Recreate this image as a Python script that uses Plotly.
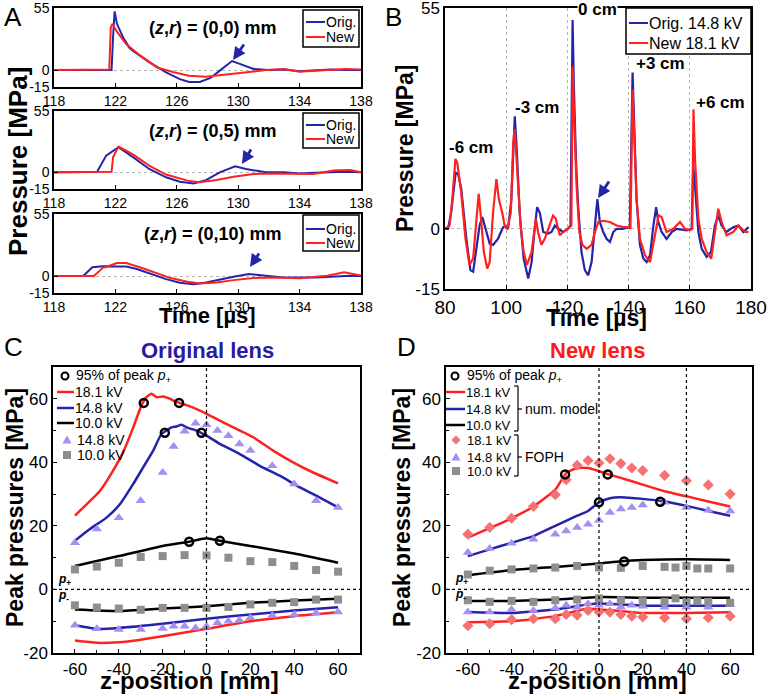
import plotly.graph_objects as go

W, H = 768, 696
FONT = "Liberation Sans, Arial, sans-serif"
BLUE = "#2424a8"
RED = "#ff2020"
LAV = "#a58ff0"
GRAY = "#8e8e8e"
PINK = "#f47272"

# ---------------- Panel A data (time in us, pressure in MPa) ----------------
a1_t_orig = [118, 119, 120, 121, 121.75, 121.85, 121.95, 122.1, 122.5, 122.9, 123.15, 124.2, 125.3, 126.2, 126.8,
             127.5, 128.2, 128.8, 129.6, 130.1, 131, 132, 133, 134, 135, 136, 137, 138]
a1_p_orig = [0, 0, 0, 0, 0, 30, 52, 41, 29, 20, 17, 7, -2, -8, -10.5, -10.5, -7, -0.5, 8, 5.5, 1, 0, 0.5, -1, 0, 0.5, 0, 0]
a1_t_new = [118, 119, 120, 121, 121.6, 121.7, 121.8, 122.1, 122.7, 123.6, 124.7, 125.8, 126.8, 127.9, 129.2, 130.5,
            131.8, 133, 134, 135, 136, 137, 138]
a1_p_new = [0, 0, 0, 0, 0.5, 38, 41, 34, 23, 13, 2.4, -2, -5, -6, -4, -2, 0, 1, -1.5, -0.5, 0, 1, 0.5]

a2_t_orig = [118, 119, 120, 120.8, 121.4, 121.8, 122.2, 123.15, 124.2, 125.3, 126.2, 127.1, 127.9, 128.8, 129.8, 130.5,
             131.8, 133, 134, 135, 136, 137, 138]
a2_p_orig = [0, 0, 0, 0.3, 15, 19, 22.6, 13.6, 3, -4.5, -8.5, -10, -7, 0, 5.4, 3, 0, 0, -1, -0.5, 0, 0.5, 0]
a2_t_new = [118, 119, 120, 121, 121.75, 121.85, 122.2, 123.15, 124.2, 125.3, 126.7, 127.5, 128.6, 129.7, 131, 132.3,
            133.6, 134.9, 136.2, 137.3, 138]
a2_p_new = [0, 0, 0, 0, 0.5, 13.6, 23, 16, 6, -2, -7.5, -9, -7, -4, -1.5, -1, -1.5, -1.5, 1.5, 2, 0]

a3_t_orig = [118, 119, 119.9, 120.5, 121.2, 122.1, 122.7, 123.4, 124.2, 125.3, 126.2, 127.1, 127.9, 128.8, 129.7, 130.7,
             131.6, 132.9, 135.1, 137.3, 138]
a3_p_orig = [0, 0, 0, 7.8, 8.7, 8.4, 8.4, 6.3, 2.4, -2.7, -6, -7.2, -5.7, -3, -0.6, 1.8, 0.3, -1.2, -1.2, 0.3, 0]
a3_t_new = [118, 119, 120, 120.6, 121.2, 121.4, 122.1, 122.7, 123.6, 124.5, 125.6, 126.7, 127.5, 128.6, 129.7, 131,
            132.3, 134, 135.8, 136.9, 137.6, 138]
a3_p_new = [0, 0, 0, 0, 7.5, 8, 11.6, 11.6, 7.8, 3.3, -1.8, -5, -6.6, -5.7, -3.6, -1.8, -1.2, -2, 0.3, 3.3, 1.8, 0.5]

a_xticks = [118, 122, 126, 130, 134, 138]
a_yticks = [-15, 0, 55]
a_labels = ["(<i>z</i>,<i>r</i>) = (0,0) mm", "(<i>z</i>,<i>r</i>) = (0,5) mm", "(<i>z</i>,<i>r</i>) = (0,10) mm"]

# ---------------- Panel B data ----------------
b_t_orig = [80, 81, 82, 83.5, 84.3, 85.3, 87, 88.3, 89.2, 90.3, 91.3, 92.2, 93.3, 94.6, 95.7, 97.3, 99, 99.9,
            100.6, 101.7, 102.8, 103.3, 104.4, 105.7, 107.2, 108.3, 109.2, 110.1, 111, 112.1, 113.7, 114.8, 115.9,
            117, 118.6, 120.2, 121, 121.7, 122.1, 122.8, 123.5, 124.6, 125.7, 126.8, 127.9, 129, 129.8, 130.6,
            131.7, 132.8, 133.9, 135, 136.1, 138, 140.4, 141.3, 141.7, 142.6, 143.7, 144.8, 145.9, 147, 148.1,
            149, 149.7, 150.8, 152.4, 154.1, 155.7, 159, 160.6, 161.1, 161.7, 162.8, 163.9, 165.5, 166.9, 168.2,
            169.3, 170.4, 172, 174.2, 175.9, 177.5, 179.2]
b_p_orig = [0, 0, 4, 14, 13.6, 10, -2.5, -10.3, -10.7, -5, 0.8, 2.9, 0, -3.7, -4, -2.5, 0.4, 0.6,
            0, 7.4, 28, 22, 4, -7.4, -12.4, -8.3, -0.8, 5.4, 4, -0.8, -1.2, -0.8, 0.8,
            0, -0.8, 0, 0.8, 52, 36, 17, 5.8, -5.8, -10.3, -11.6, -8.3, 0.8, 7.4, 1.7,
            -0.8, -2.5, -3.3, -0.8, 0, 0, 0.4, 38.9, 28, 7.4, -4, -7.4, -8.3, -6.6, 0.8,
            5.4, 1.7, -0.8, -2.5, -0.8, 0, -0.4, 0, 15.7, 10.7, -0.8, -5, -7, -5.8, 0.8,
            3.3, 0.8, -0.8, 0.4, 0.8, -0.8, 0.4]
b_t_new = [80, 81.5, 82.4, 83.4, 84, 85.3, 86.7, 88, 89.2, 90.3, 91, 91.6, 92.7, 93.8, 94.6, 95.7, 96.8, 97.6,
           98.7, 99.6, 100.4, 101.5, 102.3, 102.8, 103.6, 104.7, 105.7, 106.8, 108.3, 109, 109.7, 110.4, 111.5,
           112.6, 114, 115.3, 116.2, 117.5, 118.6, 120.2, 121.3, 121.7, 122.2, 123, 123.9, 124.9, 126.3, 127.9,
           129, 130.1, 131.7, 133.9, 136.1, 138.3, 139.9, 140.6, 141.3, 141.8, 142.6, 143.7, 145.4, 147, 148.4,
           149.8, 150.8, 152.4, 154.6, 156.8, 158.4, 160, 160.8, 161.2, 161.7, 162.8, 163.9, 165.5, 167, 168.2,
           169.3, 170.4, 172, 174.2, 175.9, 178.1, 179.2]
b_p_new = [0, 0.8, 7.4, 17.4, 16.5, 9, -2.5, -9, -7.4, 4, 8.7, 4, -5.8, -9.9, -8.3, 4, 12.4, 7.4,
           4, 0.4, 0, 4, 21.5, 24.8, 15.7, 0.8, -5.8, -9, -5.8, -0.8, 2.5, -0.8, -4,
           -2.5, 0.8, 3.3, 2.5, -1.6, -0.8, 0, 0.8, 40.5, 28, 10.7, -0.8, -4, -5, -4,
           -0.8, 1.7, 2, 1.7, 0.8, 0.4, 0.4, 0, 34.7, 24, 7.4, -2.5, -6.6, -8.3, -2.5,
           3.3, 2.9, -0.8, 0, 1.7, 0, -0.4, 0, 29.8, 17.4, 2.5, -2.5, -5.8, -7.4, -0.8,
           5, 1.7, -1.6, -0.8, 0.8, -0.8, -0.8]
b_xticks = [80, 100, 120, 140, 160, 180]
b_yticks = [-15, 0, 55]
b_labels = ["-6 cm", "-3 cm", "0 cm", "+3 cm", "+6 cm"]

# ---------------- Panel C data (Original lens) ----------------
c_red_z = [-60, -54.7, -48.6, -42.6, -38, -33.4, -29.6, -27.4, -25.1, -22.8, -19.8, -16.7, -13.7, -9.1, -3, 3,
           12.2, 21.3, 30.4, 39.5, 48.6, 60]
c_red_p = [23.2, 26.8, 31, 37.4, 43.2, 51, 58, 60.5, 61.6, 60.5, 60.7, 60, 59, 58, 56.3, 54.2,
           51, 47.9, 43.7, 40, 36.8, 33.4]
c_blue_z = [-60, -53.2, -45.6, -39.5, -33.4, -28.9, -24.3, -20.5, -18.2, -16, -13.7, -11.4, -9.1, -4.6, 0, 6.1,
            15.2, 24.3, 33.4, 42.6, 51.7, 60]
c_blue_p = [15.3, 19, 22.6, 26.8, 33.2, 38.4, 43.7, 49, 50, 51, 51.3, 51.8, 51, 50, 48.4, 45.8,
            42.6, 38.9, 35.8, 32.1, 28.9, 25.8]
c_black_z = [-60, -40, -20, -8, 0, 6, 20, 40, 60]
c_black_p = [7.4, 10.5, 13.7, 15, 16.1, 15.3, 13.7, 11.3, 8.4]
c_circ_z = [-28.6, -12.5, -19, -2.3, -7.9, 6.1]
c_circ_p = [58.7, 58.7, 49.3, 49.3, 15, 15.3]

c_tri_z = [-60, -50, -40, -30, -20, -15, -10, -5, 0, 5, 10, 15, 20, 30, 40, 50, 60]
c_tri_pos = [14.7, 19, 22.6, 27.9, 36.8, 45, 49.8, 52.3, 51.8, 50, 48.4, 45.8, 43.7, 38.9, 33.2, 27.9, 25.8]
c_tri_neg = [-11.3, -12.4, -12.6, -12.6, -12.3, -11.6, -11.6, -12.1, -11.6, -10.5, -10, -9.7, -8.9, -8.2, -7.9,
             -7.4, -7.1]
c_sq_z = [-60, -50, -40, -30, -20, -10, 0, 10, 20, 30, 40, 50, 60]
c_sq_pos = [6.3, 7.2, 8.4, 10.2, 10.5, 10.8, 10.7, 10, 8.9, 8.6, 7.4, 6.1, 5.6]
c_sq_neg = [-5, -5.7, -6, -6.4, -5.8, -5.8, -5.8, -5.5, -4.7, -4.2, -4, -3.2, -3.2]

c_neg_z = [-60, -40, -20, 0, 20, 40, 60]
c_black_neg = [-6.3, -6.8, -6, -5.3, -4.2, -3.5, -2.9]
c_blue_neg_z = [-60, -50, -40, -20, 0, 20, 40, 60]
c_blue_neg = [-11.3, -12.4, -12.1, -10.8, -9.2, -7.9, -6.6, -5.6]
c_red_neg_z = [-60, -50, -40, -30, -20, 0, 20, 40, 60]
c_red_neg = [-16.1, -16.8, -16.6, -15.8, -14.7, -12.4, -10, -8.4, -7.2]

# ---------------- Panel D data (New lens) ----------------
d_model_z = [-60, -50, -40, -30, -20, -15, -10, -5, 0, 5, 10, 20, 30, 40, 50, 60]
d_red_p = [16.3, 19.3, 22.4, 26.1, 31.4, 36.6, 38.2, 38.2, 37.2, 36.1, 35.1, 33, 30.9, 29.3, 27.7, 26.1]
d_blue_z = [-60, -50, -40, -30, -20, -10, -5, 0, 5, 10, 20, 30, 40, 50, 60]
d_blue_p = [10.5, 12.6, 14.7, 16.8, 20, 23.2, 24.7, 27.4, 28.7, 29, 28.5, 27.7, 26.3, 24.7, 23.2]
d_black_z = [-60, -40, -20, 0, 10, 20, 40, 60]
d_black_p = [4.5, 6.1, 7.1, 8.2, 8.9, 9.3, 9.5, 9.3]
d_circ_z = [-15.5, 4, 0, 28, 11.5]
d_circ_p = [36.2, 36.2, 27.4, 27.6, 8.8]

d_foph_z = [-60, -50, -40, -30, -20, -15, -10, -5, 0, 5, 10, 15, 20, 30, 40, 50, 60]
d_dia_pos = [17.4, 19.5, 22.4, 26.1, 29.8, 34.5, 39.1, 40.6, 39.8, 41.1, 39.6, 38.2, 37.4, 35.9, 34.2, 32.9, 30]
d_dia_neg = [-11.4, -10.8, -9.5, -9.2, -9.2, -7.9, -8.1, -6.6, -7.1, -7.2, -7.9, -8.4, -8.7, -8.9, -9.2, -8.9, -8.4]
d_tri_pos = [11.6, 12.9, 14.5, 15.8, 17.4, 18.4, 19.5, 20.5, 21.8, 24.2, 25.3, 25.8, 26.6, 27.4, 25.8, 24.9, 24.7]
d_tri_neg = [-7.1, -7.1, -6.3, -6.6, -5.8, -5, -5.6, -4.5, -5, -4.5, -5.5, -5, -5.3, -5.6, -5.6, -5.6, -4.7]
d_sq_z = [-60, -50, -40, -30, -20, -10, 0, 10, 20, 30, 35, 40, 45, 50, 60]
d_sq_pos = [4.7, 5.9, 6.3, 6.6, 6.9, 7.4, 6.9, 6.8, 7.4, 7.1, 6.9, 7.4, 6.6, 6.6, 6.6]
d_sq_neg = [-3.4, -3.9, -3.6, -3.9, -3.4, -3.2, -2.8, -3.4, -3.7, -3.9, -2.8, -3.9, -3.7, -3.9, -4.2]

d_black_neg_z = [-60, -40, -20, 0, 20, 40, 60]
d_black_neg = [-3.6, -3.6, -3.2, -2.4, -2.6, -2.6, -2.6]
d_blue_neg_z = [-60, -40, -20, -5, 0, 10, 20, 40, 60]
d_blue_neg = [-7.1, -7.4, -6.3, -4.7, -4.4, -4.7, -5.1, -5.1, -5.1]
d_red_neg_z = [-60, -40, -20, -10, -5, 0, 10, 20, 40, 60]
d_red_neg = [-10.3, -10, -8.4, -6.8, -6, -6.3, -6.8, -7.4, -7.4, -7.2]

cd_xticks = [-60, -40, -20, 0, 20, 40, 60]
cd_yticks = [-20, 0, 20, 40, 60]


def X(px):
    return px / W


def Y(py):
    return 1 - py / H


fig = go.Figure()


def add(x, y, ax, **kw):
    fig.add_trace(go.Scatter(x=x, y=y, xaxis="x" + ax, yaxis="y" + ax, showlegend=False,
                             hoverinfo="skip", **kw))


# Panel A traces
for ax, (to, po, tn, pn) in zip(["", "2", "3"], [(a1_t_orig, a1_p_orig, a1_t_new, a1_p_new),
                                                 (a2_t_orig, a2_p_orig, a2_t_new, a2_p_new),
                                                 (a3_t_orig, a3_p_orig, a3_t_new, a3_p_new)]):
    add(to, po, ax, mode="lines", line=dict(color=BLUE, width=2))
    add(tn, pn, ax, mode="lines", line=dict(color=RED, width=2))

# Panel B
add(b_t_orig, b_p_orig, "4", mode="lines", line=dict(color=BLUE, width=2.2))
add(b_t_new, b_p_new, "4", mode="lines", line=dict(color=RED, width=2.2))

# Panel C
sm = dict(shape="spline", smoothing=0.5)
TRI = dict(symbol="triangle-up", size=9, color=LAV)
SQ = dict(symbol="square", size=8, color=GRAY)
DIA = dict(symbol="diamond", size=8.5, color=PINK)
CIRC = dict(symbol="circle-open", size=8, color="black", line=dict(width=2.5))
add(c_red_z, c_red_p, "5", mode="lines", line=dict(color=RED, width=2.5, **sm))
add(c_blue_z, c_blue_p, "5", mode="lines", line=dict(color=BLUE, width=2.5, **sm))
add(c_black_z, c_black_p, "5", mode="lines", line=dict(color="black", width=2.5, **sm))
add(c_red_neg_z, c_red_neg, "5", mode="lines", line=dict(color=RED, width=2.5, **sm))
add(c_blue_neg_z, c_blue_neg, "5", mode="lines", line=dict(color=BLUE, width=2.5, **sm))
add(c_neg_z, c_black_neg, "5", mode="lines", line=dict(color="black", width=2.5, **sm))
add(c_tri_z, c_tri_pos, "5", mode="markers", marker=TRI)
add(c_tri_z, c_tri_neg, "5", mode="markers", marker=TRI)
add(c_sq_z, c_sq_pos, "5", mode="markers", marker=SQ)
add(c_sq_z, c_sq_neg, "5", mode="markers", marker=SQ)
add(c_circ_z, c_circ_p, "5", mode="markers", marker=CIRC)

# Panel D
add(d_model_z, d_red_p, "6", mode="lines", line=dict(color=RED, width=2.5, **sm))
add(d_blue_z, d_blue_p, "6", mode="lines", line=dict(color=BLUE, width=2.5, **sm))
add(d_black_z, d_black_p, "6", mode="lines", line=dict(color="black", width=2.5, **sm))
add(d_red_neg_z, d_red_neg, "6", mode="lines", line=dict(color=RED, width=2.5, **sm))
add(d_blue_neg_z, d_blue_neg, "6", mode="lines", line=dict(color=BLUE, width=2.5, **sm))
add(d_black_neg_z, d_black_neg, "6", mode="lines", line=dict(color="black", width=2.5, **sm))
add(d_foph_z, d_dia_pos, "6", mode="markers", marker=DIA)
add(d_foph_z, d_dia_neg, "6", mode="markers", marker=DIA)
add(d_foph_z, d_tri_pos, "6", mode="markers", marker=TRI)
add(d_foph_z, d_tri_neg, "6", mode="markers", marker=TRI)
add(d_sq_z, d_sq_pos, "6", mode="markers", marker=SQ)
add(d_sq_z, d_sq_neg, "6", mode="markers", marker=SQ)
add(d_circ_z, d_circ_p, "6", mode="markers", marker=CIRC)


def axis(dom, rng, tickvals, fs, anchor, **kw):
    d = dict(domain=dom, range=rng, tickvals=tickvals, ticktext=[str(v) for v in tickvals],
             showline=True, mirror=True, linecolor="black", linewidth=1.5, ticks="inside", ticklen=4,
             tickcolor="black", showgrid=False, zeroline=False, anchor=anchor, fixedrange=True,
             automargin=False, ticklabeloverflow="allow",
             tickfont=dict(size=fs, family=FONT, color="black"))
    d.update(kw)
    return d


gridA = dict(showgrid=True, gridcolor="#b4b4b4", griddash="dot", gridwidth=1)
ax_dom = [X(54), X(361)]
a_rows = [(8, 87), (111, 189), (214, 293)]
lay = {}
for i, (t, b) in enumerate(a_rows):
    s = "" if i == 0 else str(i + 1)
    lay["xaxis" + s] = axis(ax_dom, [118, 138], a_xticks, 14, "y" + s, ticklabelstandoff=0)
    lay["yaxis" + s] = axis([Y(b), Y(t)], [-15, 55], a_yticks, 14, "x" + s, **gridA)

lay["xaxis4"] = axis([X(445), X(751)], [80, 180], b_xticks, 19, "y4", **gridA)
lay["yaxis4"] = axis([Y(289), Y(8)], [-15, 55], b_yticks, 17, "x4", **gridA)

minor = dict(ticks="inside", dtick=10, ticklen=3, tickcolor="black")
lay["xaxis5"] = axis([X(53), X(360)], [-70, 70], cd_xticks, 17, "y5", minor=minor)
lay["yaxis5"] = axis([Y(653), Y(367)], [-20, 70], cd_yticks, 17, "x5", minor=minor)
lay["xaxis6"] = axis([X(446), X(752)], [-70, 70], cd_xticks, 17, "y6", minor=minor)
lay["yaxis6"] = axis([Y(653), Y(367)], [-20, 70], cd_yticks, 17, "x6", minor=minor)

ann = []
shp = []


def text(px, py, s, size, color="black", xanchor="center", angle=0, bold=False, bg=None):
    if bold:
        s = "<b>" + s + "</b>"
    d = dict(x=X(px), y=Y(py), xref="paper", yref="paper", text=s, showarrow=False,
             font=dict(size=size, color=color, family=FONT), xanchor=xanchor, yanchor="middle",
             textangle=angle, borderpad=0)
    if bg:
        d["bgcolor"] = bg
    ann.append(d)


def pline(x0, y0, x1, y1, color="black", width=1.5):
    shp.append(dict(type="line", xref="paper", yref="paper", x0=X(x0), y0=Y(y0), x1=X(x1), y1=Y(y1),
                    line=dict(color=color, width=width)))


def prect(x0, y0, x1, y1, fill="white", lc="black", width=1.5):
    shp.append(dict(type="rect", xref="paper", yref="paper", x0=X(x0), y0=Y(y0), x1=X(x1), y1=Y(y1),
                    fillcolor=fill, line=dict(color=lc, width=width), layer="above"))


def arrow(hx, hy, dx, dy):
    ann.append(dict(x=X(hx), y=Y(hy), xref="paper", yref="paper", text="", showarrow=True,
                    ax=dx, ay=dy, arrowhead=2, arrowsize=0.9, arrowwidth=2.8, arrowcolor=BLUE))


# Panel letters
text(13, 17, "A", 26)
text(393, 17, "B", 26)
text(13, 347, "C", 26)
text(406, 347, "D", 26)

# Panel A decorations
for (t, b), lab, (r1, r2), (bt, bb) in zip(a_rows, a_labels, [(22, 37), (125, 139), (229, 243)],
                                           [(10, 47), (113, 148), (215, 251)]):
    text(213, t + 20, lab, 18, bold=True)
    prect(303, bt, 359, bb)
    pline(306, r1, 325, r1, BLUE, 2)
    pline(306, r2, 325, r2, RED, 2)
    text(325, r1, "Orig.", 14, xanchor="left")
    text(325, r2, "New", 14, xanchor="left")
arrow(233, 60, 12, -17)
arrow(242, 164, 10, -16)
arrow(250, 267, 10, -15)
text(207, 315, "Time [µs]", 22, bold=True)
text(18, 162, "Pressure [MPa]", 26, bold=True, angle=-90)

# Panel B decorations
b_pos = [(471, 147), (537, 107), (597, 9), (660, 63), (720, 102)]
for (px, py), lab in zip(b_pos, b_labels):
    text(px, py, lab, 17, bold=True, bg="white" if lab == "0 cm" else None)
prect(626, 8, 751, 54)
pline(629, 23, 648, 23, BLUE, 2)
pline(629, 43, 648, 43, RED, 2)
text(648, 23, "Orig. 14.8 kV", 16, xanchor="left")
text(648, 43, "New 18.1 kV", 16, xanchor="left")
arrow(598, 198, 12, -18)
text(596, 318, "Time [µs]", 23, bold=True)
text(405, 149, "Pressure [MPa]", 23, bold=True, angle=-90)

# Reference dotted lines C / D
for ax, xs in (("5", [0]), ("6", [0, 40])):
    shp.append(dict(type="line", xref="x%s domain" % ax, yref="y" + ax, x0=0, x1=1, y0=0, y1=0,
                    line=dict(color="black", width=1.2, dash="dot")))
    for xv in xs:
        shp.append(dict(type="line", xref="x" + ax, yref="y%s domain" % ax, x0=xv, x1=xv, y0=0, y1=1,
                        line=dict(color="black", width=1.2, dash="dot")))


def circ(cx, cy, r=3.5):
    shp.append(dict(type="circle", xref="paper", yref="paper", x0=X(cx - r), x1=X(cx + r), y0=Y(cy + r),
                    y1=Y(cy - r), line=dict(color="black", width=2)))


def tri(cx, cy, r=4.5, color=LAV):
    p = "M %f,%f L %f,%f L %f,%f Z" % (X(cx), Y(cy - r), X(cx - r), Y(cy + r * 0.8), X(cx + r), Y(cy + r * 0.8))
    shp.append(dict(type="path", xref="paper", yref="paper", path=p, fillcolor=color, line=dict(width=0)))


def sq(cx, cy, r=4, color=GRAY):
    shp.append(dict(type="rect", xref="paper", yref="paper", x0=X(cx - r), x1=X(cx + r), y0=Y(cy + r),
                    y1=Y(cy - r), fillcolor=color, line=dict(width=0)))


def dia(cx, cy, r=4.5, color=PINK):
    p = "M %f,%f L %f,%f L %f,%f L %f,%f Z" % (X(cx), Y(cy - r), X(cx + r), Y(cy), X(cx), Y(cy + r), X(cx - r), Y(cy))
    shp.append(dict(type="path", xref="paper", yref="paper", path=p, fillcolor=color, line=dict(width=0)))


peak_lab = "95% of peak <i>p</i><sub>+</sub>"
LF = 14
# Panel C legend
circ(65, 376)
text(75, 376, peak_lab, LF, xanchor="left")
for yy, col, lab in ((392, RED, "18.1 kV"), (408, BLUE, "14.8 kV"), (423, "black", "10.0 kV")):
    pline(57, yy, 74, yy, col, 2.5)
    text(74, yy, lab, LF, xanchor="left")
tri(67, 440)
text(76, 440, "14.8 kV", LF, xanchor="left")
sq(67, 455)
text(76, 455, "10.0 kV", LF, xanchor="left")
text(57, 580, "<b><i>p</i><sub>+</sub></b>", 12, xanchor="left")
text(57, 596, "<b><i>p</i><sub>-</sub></b>", 12, xanchor="left")
text(207, 350, "Original lens", 22, color="#2b1aa0", bold=True)
text(189, 680, "z-position [mm]", 24, bold=True)
text(15, 508, "Peak pressures [MPa]", 23, bold=True, angle=-90)

# Panel D legend
LD = 13
circ(455, 376)
text(466, 376, peak_lab, LF, xanchor="left")
for yy, col, lab in ((392, RED, "18.1 kV"), (409, BLUE, "14.8 kV"), (425, "black", "10.0 kV")):
    pline(446, yy, 465, yy, col, 2.5)
    text(465, yy, lab, LD, xanchor="left")
dia(456, 440)
text(466, 440, "18.1 kV", LD, xanchor="left")
tri(456, 457)
text(466, 457, "14.8 kV", LD, xanchor="left")
sq(456, 471)
text(466, 471, "10.0 kV", LD, xanchor="left")
for y0, y1, ym, lab in ((386, 431, 409, "num. model"), (435, 476, 457, "FOPH")):
    pline(518, y0, 518, y1, "black", 1.2)
    pline(514, y0, 518, y0, "black", 1.2)
    pline(514, y1, 518, y1, "black", 1.2)
    pline(518, ym, 522, ym, "black", 1.2)
    text(524, ym, lab, LF, xanchor="left")
text(454, 579, "<b><i>p</i><sub>+</sub></b>", 12, xanchor="left")
text(454, 595, "<b><i>p</i><sub>-</sub></b>", 12, xanchor="left")
text(597, 350, "New lens", 22, color="#ff1a1a", bold=True)
text(597, 680, "z-position [mm]", 24, bold=True)
text(402, 508, "Peak pressures [MPa]", 23, bold=True, angle=-90)

fig.update_layout(template="none", width=W, height=H, autosize=False, margin=dict(l=0, r=0, t=0, b=0, pad=0),
                  paper_bgcolor="white", plot_bgcolor="white", showlegend=False,
                  font=dict(family=FONT, color="black"), annotations=ann, shapes=shp, **lay)
fig.write_html("out.html", config={"displayModeBar": False},
               post_script="document.body.style.margin='0';document.body.style.overflow='hidden';")
